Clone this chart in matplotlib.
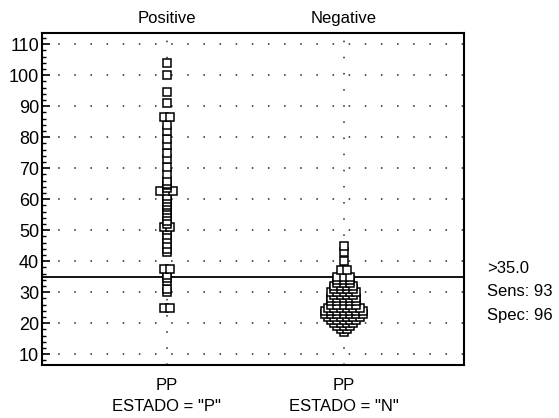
import matplotlib
matplotlib.use('Agg')
import matplotlib.pyplot as plt
import matplotlib.transforms as mtransforms
import numpy as np

plt.rcParams['font.family'] = ['Liberation Sans', 'DejaVu Sans']

# data
groups = ['Positive', 'Negative']
codes = ['ESTADO = "P"', 'ESTADO = "N"']
var_name = 'PP'
positive = [104, 100, 94.5, 91, 86.5, 86.5, 84, 82, 79.5, 77.5, 75, 73, 70.5,
            68, 66, 65, 64.5, 63.5, 62.5, 62.5, 62.5, 61, 60, 59, 58, 57.5,
            56.5, 55.5, 54.5, 53, 52, 51, 51, 50, 48.5, 47, 45.5, 44, 43,
            37.5, 37.5, 35.5, 34.5, 33.5, 31, 30, 25, 25]
neg_levels = [45, 43, 40, 37, 35, 34, 33, 32, 31, 30, 29, 28, 27, 26, 25,
              24, 23, 22, 21, 20, 19, 18, 17]
neg_counts = [1, 1, 1, 2, 3, 3, 3, 4, 4, 5, 4, 5, 5, 5, 6,
              7, 7, 6, 5, 4, 3, 2, 1]
negative = [v for v, n in zip(neg_levels, neg_counts) for _ in range(n)]
cutoff = 35.0
sens = 93
spec = 96


def spread(values, center, step=0.036):
    # put tied values side by side
    xs, ys = [], []
    vals = np.array(values, dtype=float)
    for v in np.unique(vals):
        k = int((vals == v).sum())
        for i in range(k):
            xs.append(center + (i - (k - 1) / 2) * step)
            ys.append(v)
    return xs, ys


fig = plt.figure(figsize=(5.59, 4.18), dpi=100)
ax = fig.add_axes([0.0751, 0.1268, 0.755, 0.794])

pos = [1, 2]
for p, vals in zip(pos, [positive, negative]):
    x, y = spread(vals, p)
    ax.plot(x, y, 's', ms=5.4, mfc='white', mec='black', mew=1.1,
            zorder=3, linestyle='none')

# dotted grid
for v in range(10, 111, 10):
    ax.axhline(v, color='#555555', lw=1.4, ls=(0, (0.8, 7.5)), zorder=1)
for p in pos:
    ax.axvline(p, color='#555555', lw=1.4, ls=(0, (0.8, 7.5)), zorder=1)

ax.axhline(cutoff, color='black', lw=1.3, zorder=2)

ax.set_xlim(0.295, 2.68)
ax.set_ylim(6.5, 113.6)
ax.set_yticks(range(10, 111, 10))
ax.set_yticks(range(8, 113, 2), minor=True)
ax.set_xticks([])
ax.tick_params(axis='y', which='major', direction='in', length=6, width=1.2,
               labelsize=13, pad=2)
ax.tick_params(axis='y', which='minor', direction='in', length=3, width=1.0)
for s in ax.spines.values():
    s.set_linewidth(1.5)

trans = mtransforms.blended_transform_factory(ax.transData, ax.transAxes)
for p, g, c in zip(pos, groups, codes):
    ax.text(p, 1.022, g, transform=trans, ha='center', va='bottom', fontsize=12)
    ax.text(p, -0.04, var_name, transform=trans, ha='center', va='top', fontsize=12)
    ax.text(p, -0.102, c, transform=trans, ha='center', va='top', fontsize=12)

fig.text(0.871, 0.358, '>%.1f' % cutoff, ha='left', va='center', fontsize=12)
fig.text(0.871, 0.302, 'Sens: %d' % sens, ha='left', va='center', fontsize=12)
fig.text(0.871, 0.246, 'Spec: %d' % spec, ha='left', va='center', fontsize=12)

fig.savefig('out.png', dpi=100)
